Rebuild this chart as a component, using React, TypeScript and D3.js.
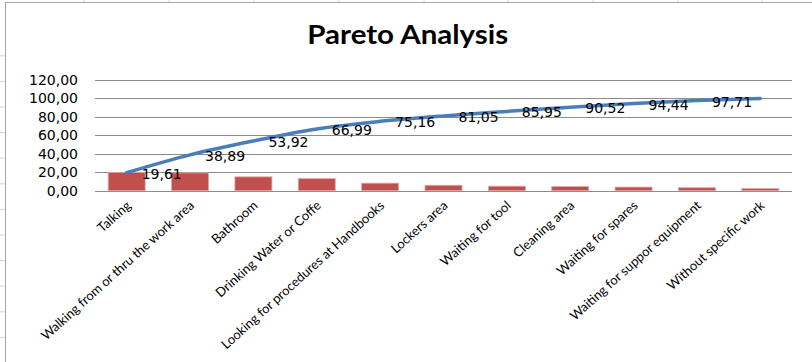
import React from "react";
import * as d3 from "d3";

// Waste categories, sorted by share of lost time
const categories = [
  "Talking",
  "Walking from or thru the work area",
  "Bathroom",
  "Drinking Water or Coffe",
  "Looking for procedures at Handbooks",
  "Lockers area",
  "Waiting for tool",
  "Cleaning area",
  "Waiting for spares",
  "Waiting for suppor equipment",
  "Without specific work",
];

// Share of each category (%)
const shares = [19.61, 19.28, 15.03, 13.07, 8.17, 5.89, 4.9, 4.57, 3.92, 3.27, 2.29];

// Running total (%)
const cumulative = [19.61, 38.89, 53.92, 66.99, 75.16, 81.05, 85.95, 90.52, 94.44, 97.71, 100];

// Value axis ticks
const yTicks = [0, 20, 40, 60, 80, 100, 120];

// Spreadsheet cell grid showing around the chart object
const sheetRowLines = [55.8, 81.4, 107, 132.6, 158.2, 183.8, 209.4, 235, 260.6, 286.2, 311.8, 337.4];
const sheetColLines = [84, 169, 254, 339, 424, 508, 593, 678, 762];

const W = 812;
const H = 362;

const fmt = (v: number) => v.toFixed(2).replace(".", ",");

export default function App() {
  const x = d3
    .scaleBand<string>()
    .domain(categories)
    .range([95, 792])
    .paddingInner(0.416)
    .paddingOuter(0.208);
  const y = d3.scaleLinear().domain([0, 120]).range([190.7, 80]);

  const cx = (c: string) => (x(c) ?? 0) + x.bandwidth() / 2;

  const line = d3
    .line<number>()
    .x((_, i) => cx(categories[i]))
    .y((v) => y(v))
    .curve(d3.curveMonotoneX);

  const valueFont = "'DejaVu Sans', Verdana, sans-serif";
  const catFont = "Lato, 'Open Sans', sans-serif";

  return (
    <svg
      width={W}
      height={H}
      viewBox={`0 0 ${W} ${H}`}
      style={{ position: "fixed", left: 0, top: 0, background: "#fff" }}
    >
      {/* worksheet grid behind the chart */}
      <g stroke="#d4d4d4" strokeWidth={1}>
        {sheetRowLines.map((ly) => (
          <line key={`r${ly}`} x1={0} x2={5} y1={ly} y2={ly} />
        ))}
        {sheetColLines.map((lx) => (
          <line key={`c${lx}`} x1={lx} x2={lx} y1={0} y2={2.5} />
        ))}
      </g>

      {/* chart area */}
      <rect x={5.5} y={2.5} width={W + 10} height={H + 10} fill="#fff" stroke="#a6a6a6" strokeWidth={1} />

      <text
        x={407.8}
        y={44}
        textAnchor="middle"
        fontFamily="Lato, 'Open Sans', sans-serif"
        fontWeight={700}
        fontSize={27.5}
        textLength={201}
        lengthAdjust="spacingAndGlyphs"
        fill="#000"
      >
        Pareto Analysis
      </text>

      {/* horizontal gridlines */}
      <g stroke="#8c8c8c" strokeWidth={1}>
        {yTicks.map((t) => (
          <line key={t} x1={95} x2={792} y1={Math.round(y(t)) + 0.5} y2={Math.round(y(t)) + 0.5} />
        ))}
      </g>

      {/* value axis labels */}
      <g fontFamily={valueFont} fontSize={14} fill="#000" textAnchor="end">
        {yTicks.map((t) => (
          <text key={t} x={78} y={y(t)} dy="0.36em">
            {fmt(t)}
          </text>
        ))}
      </g>

      {/* share bars */}
      <g>
        {categories.map((c, i) => (
          <rect
            key={c}
            x={x(c)}
            y={y(shares[i])}
            width={x.bandwidth()}
            height={y(0) - y(shares[i])}
            fill="#c0504d"
            stroke="#e0a9a7"
            strokeWidth={0.8}
          />
        ))}
      </g>

      {/* cumulative line */}
      <path d={line(cumulative) ?? ""} fill="none" stroke="#4a7ebb" strokeWidth={3.5} strokeLinecap="round" />

      {/* cumulative labels */}
      <g fontFamily={valueFont} fontSize={14} fill="#000">
        {cumulative.slice(0, 10).map((v, i) => (
          <text key={i} x={cx(categories[i]) + 15} y={y(v) + 1} dy="0.36em">
            {fmt(v)}
          </text>
        ))}
      </g>

      {/* category labels */}
      <g fontFamily={catFont} fontSize={13} fill="#000" textAnchor="end">
        {categories.map((c) => (
          <text key={c} transform={`translate(${cx(c) + 5},${y(0) + 16}) rotate(-42)`}>
            {c}
          </text>
        ))}
      </g>
    </svg>
  );
}
